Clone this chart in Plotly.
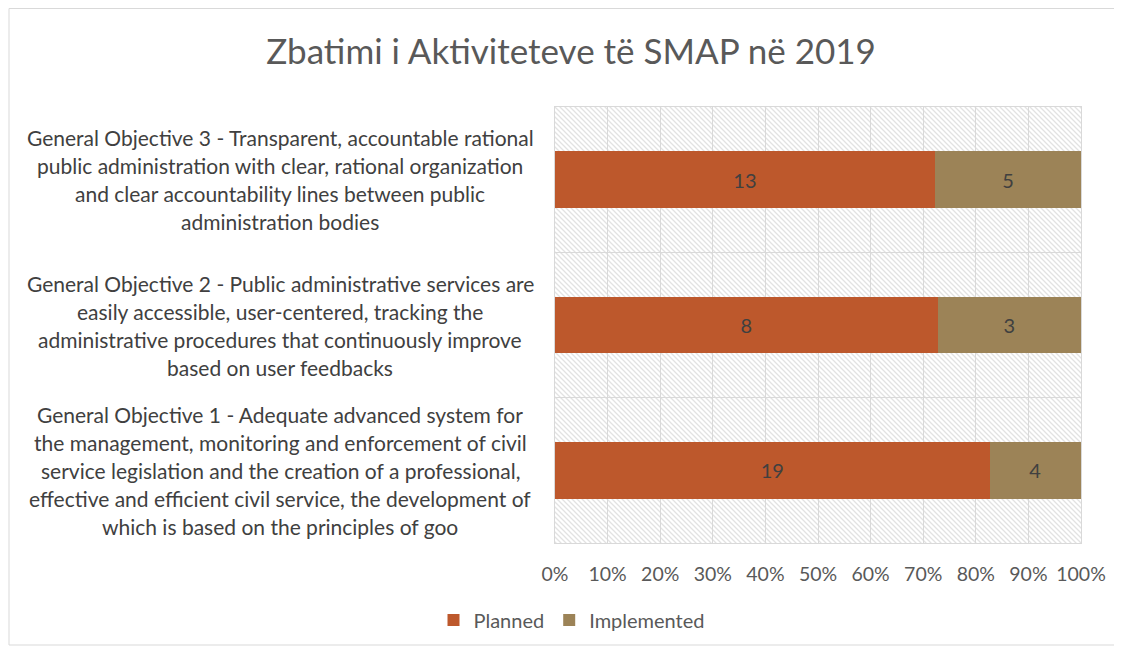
import base64
import plotly.graph_objects as go

categories = [
    "General Objective 1 - Adequate advanced system for<br>the management, monitoring and enforcement of civil<br>service legislation and the creation of a professional,<br>effective and efficient civil service, the development of<br>which is based on the principles of goo",
    "General Objective 2 - Public administrative services are<br>easily accessible, user-centered, tracking the<br>administrative procedures that continuously improve<br>based on user feedbacks",
    "General Objective 3 - Transparent, accountable rational<br>public administration with clear, rational organization<br>and clear accountability lines between public<br>administration bodies",
]
planned = [19, 8, 13]
implemented = [4, 3, 5]
tick_vals = [0, 10, 20, 30, 40, 50, 60, 70, 80, 90, 100]
tick_text = ["0%", "10%", "20%", "30%", "40%", "50%", "60%", "70%", "80%", "90%", "100%"]

FONT = "Lato"
TXT = "#404040"
TICK = "#595959"

OFF = 8  # page body margin
W, H = 1122 - OFF, 651 - OFF
L, R, T, B = 555 - OFF, 1081 - OFF, 107 - OFF, 543 - OFF
pw, ph = R - L, B - T

fig = go.Figure()
fig.add_trace(go.Bar(
    y=categories, x=planned, name="Planned", orientation="h",
    marker=dict(color="#BD582C", line=dict(width=0)),
    text=planned, texttemplate="%{text}", textposition="inside",
    insidetextanchor="middle", textangle=0,
    textfont=dict(family=FONT, size=20, color=TXT),
))
fig.add_trace(go.Bar(
    y=categories, x=implemented, name="Implemented", orientation="h",
    marker=dict(color="#9C8357", line=dict(width=0)),
    text=implemented, texttemplate="%{text}", textposition="inside",
    insidetextanchor="middle", textangle=0,
    textfont=dict(family=FONT, size=20, color=TXT),
))

# hatched plot background
svg = (
    f'<svg xmlns="http://www.w3.org/2000/svg" width="{pw}" height="{ph}">'
    '<defs><pattern id="p" width="5" height="5" patternUnits="userSpaceOnUse">'
    '<path d="M-1,-1 L6,6 M-1,4 L1,6 M4,-1 L6,1" stroke="#e2e2e2" stroke-width="1.3"/>'
    '</pattern></defs>'
    f'<rect width="{pw}" height="{ph}" fill="white"/>'
    f'<rect width="{pw}" height="{ph}" fill="url(#p)"/></svg>'
)
src = "data:image/svg+xml;base64," + base64.b64encode(svg.encode()).decode()
fig.add_layout_image(dict(
    source=src, xref="paper", yref="paper", x=0, y=1, sizex=1, sizey=1,
    xanchor="left", yanchor="top", sizing="stretch", layer="below",
))

# category labels, centered lines
line_gap = 28
for cat in categories:
    lines = cat.split("<br>")
    n = len(lines)
    for i, ln in enumerate(lines):
        off = ((n - 1) / 2 - i) * line_gap
        fig.add_annotation(
            x=(280 - OFF - L) / pw, xref="paper", y=cat, yref="y",
            text=ln, showarrow=False, xanchor="center", yanchor="middle",
            yshift=off, font=dict(family=FONT, size=21, color=TXT),
        )

# outer chart border
fig.add_shape(type="rect", xref="paper", yref="paper",
              x0=(9 - OFF - L) / pw, x1=(1118 - OFF - L) / pw,
              y0=(B - (645 - OFF)) / ph, y1=(B - (8 - OFF) - 0.5) / ph,
              line=dict(color="#d9d9d9", width=1), fillcolor="rgba(0,0,0,0)",
              layer="below")

fig.update_layout(
    width=W, height=H,
    margin=dict(l=L, r=W - R, t=T, b=H - B, autoexpand=False),
    barmode="stack", barnorm="percent", bargap=0.61,
    paper_bgcolor="white", plot_bgcolor="rgba(0,0,0,0)",
    title=dict(text="Zbatimi i Aktiviteteve të SMAP në 2019",
               x=(571 - OFF) / W, xref="container", xanchor="center",
               y=1 - (52 - OFF) / H, yref="container", yanchor="middle",
               font=dict(family=FONT, size=35, color=TICK)),
    legend=dict(orientation="h", xref="container", yref="container",
                x=(572 - OFF) / W, xanchor="center", y=1 - (620 - OFF) / H,
                yanchor="middle",
                font=dict(family=FONT, size=20, color=TICK),
                traceorder="normal", itemwidth=30),
    xaxis=dict(range=[0, 100], tickvals=tick_vals, ticktext=tick_text,
               showgrid=True, gridcolor="#d9d9d9", gridwidth=1,
               zeroline=False, showline=True, linecolor="#d9d9d9", mirror=True,
               tickfont=dict(family=FONT, size=19.5, color=TICK), ticks="",
               ticklabelstandoff=14, fixedrange=True),
    yaxis=dict(showticklabels=False, showgrid=True, gridcolor="#d9d9d9",
               tickson="boundaries", zeroline=False,
               showline=True, linecolor="#d9d9d9", mirror=True, ticks=""),
    showlegend=True,
)

fig.write_html("out.html")
